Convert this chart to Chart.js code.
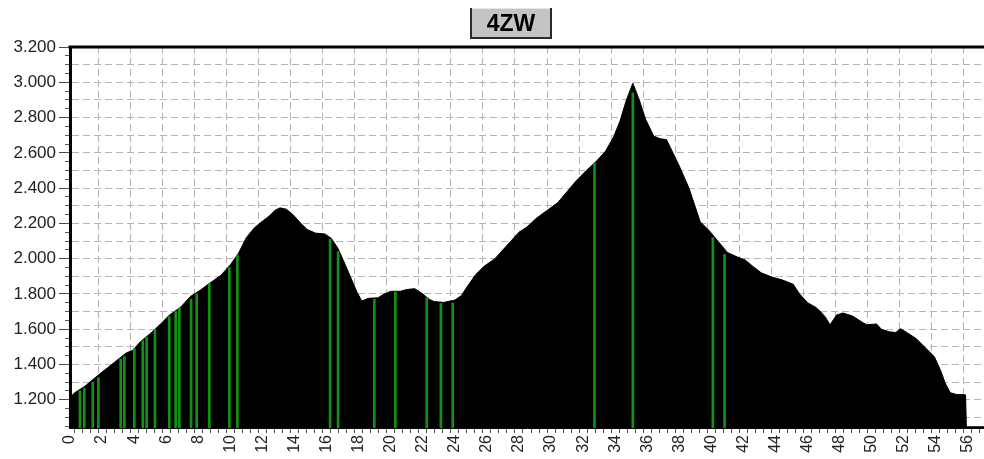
<!DOCTYPE html>
<html>
<head>
<meta charset="utf-8">
<script src="https://cdn.jsdelivr.net/npm/chart.js@4.4.1/dist/chart.umd.min.js"></script>
<style>
html, body { margin: 0; padding: 0; background: #fff; }
</style>
</head>
<body>
<canvas id="grafico_perfil" width="984" height="459"></canvas>
<script>
const tituloPerfil = '4ZW'

// perfil de altitude (km, m)
const distanciaKm = [0, 0.3, 0.9, 1.9, 2.6, 3.5, 3.9, 4.4, 5.0, 5.6, 6.2, 6.9, 7.5, 8.1, 8.7, 9.4, 10.0, 10.5, 11.0, 11.5,
    11.9, 12.4, 12.8, 13.1, 13.5, 13.9, 14.4, 14.8, 15.3, 15.9, 16.3, 16.7, 17.0, 17.5, 17.9, 18.2, 18.6, 19.2, 19.6, 20.0,
    20.6, 21.0, 21.5, 22.0, 22.4, 22.7, 23.3, 24.0, 24.4, 24.8, 25.3, 25.8, 26.5, 27.0, 27.5, 28.0, 28.5, 29.1, 29.7, 30.4,
    31.0, 31.6, 32.2, 32.8, 33.4, 33.9, 34.3, 34.7, 35.1, 35.5, 35.9, 36.4, 36.8, 37.2, 37.6, 38.0, 38.6, 39.3, 39.9, 40.4,
    41.0, 41.6, 42.1, 42.6, 43.1, 43.8, 44.4, 45.1, 45.5, 46.0, 46.5, 46.8, 47.1, 47.4, 47.8, 48.2, 48.8, 49.4, 49.7, 50.3,
    50.6, 51.1, 51.5, 51.8, 52.3, 52.8, 53.4, 53.9, 54.3, 54.6, 54.9, 55.3, 55.85, 55.9, 57]
const altitude = [1215, 1240, 1275, 1350, 1400, 1465, 1480, 1530, 1575, 1625, 1680, 1725, 1785, 1820, 1860, 1905, 1965, 2030, 2120, 2175,
    2205, 2240, 2275, 2288, 2280, 2250, 2200, 2165, 2145, 2140, 2115, 2060, 2000, 1895, 1810, 1760, 1775, 1778, 1800, 1815,
    1815, 1825, 1830, 1800, 1770, 1757, 1752, 1765, 1790, 1845, 1910, 1955, 2000, 2050, 2100, 2150, 2180, 2230, 2270, 2316,
    2380, 2445, 2500, 2550, 2610, 2690, 2780, 2900, 2995, 2900, 2790, 2695, 2680, 2675, 2600, 2525, 2400, 2210, 2155, 2100,
    2035, 2010, 1993, 1955, 1920, 1895, 1880, 1855, 1800, 1750, 1725, 1700, 1670, 1625, 1680, 1692, 1675, 1640, 1625, 1630,
    1600, 1585, 1582, 1603, 1575, 1545, 1490, 1445, 1365, 1290, 1240, 1230, 1228, 1047, 1047]

// marcos (linhas verdes)
const marcosKm = [0.62, 0.89, 1.42, 1.77, 3.16, 3.39, 4.01, 4.54, 4.78, 5.30, 6.19, 6.59, 6.82, 7.55, 7.90, 8.69, 9.94, 10.44,
    16.22, 16.72, 18.98, 20.29, 22.25, 23.13, 23.87, 32.71, 35.10, 40.09, 40.82]
const marcosAltitude = [1250, 1265, 1300, 1325, 1430, 1445, 1490, 1535, 1555, 1600, 1670, 1700, 1720, 1770, 1800, 1860, 1950, 2020,
    2110, 2040, 1770, 1810, 1780, 1745, 1750, 2540, 2940, 2120, 2025]

// ticks do eixo y
const ticksAltitude = [1200, 1400, 1600, 1800, 2000, 2200, 2400, 2600, 2800, 3000, 3200]

const fonte = "'Liberation Sans', Arial, sans-serif"
Chart.defaults.font.family = fonte

const dataPerfil = distanciaKm.map((km, i) => ({ x: km, y: altitude[i] }))
const dataMarcos = marcosKm.map((km, i) => ({ x: km, y: marcosAltitude[i] }))

const transparente = 'rgba(0,0,0,0)'

function formatarAltitude(valor) {
    return (valor / 1000).toFixed(3)
}

// caixa do titulo e borda de cima
const pluginMoldura = {
    id: 'moldura',
    afterDraw(chart) {
        const ctx = chart.ctx
        const area = chart.chartArea
        ctx.save()
        ctx.strokeStyle = '#000'
        ctx.lineWidth = 3
        ctx.beginPath()
        ctx.moveTo(area.left - 1.5, area.top)
        ctx.lineTo(area.right, area.top)
        ctx.stroke()

        const x = 470, y = 8, w = 82, h = 31
        ctx.fillStyle = '#c4c4c4'
        ctx.fillRect(x, y, w, h)
        ctx.strokeStyle = '#e6e6e6'
        ctx.lineWidth = 1
        ctx.beginPath()
        ctx.moveTo(x, y + 0.5)
        ctx.lineTo(x + w, y + 0.5)
        ctx.stroke()
        ctx.strokeStyle = '#2a2a2a'
        ctx.lineWidth = 2
        ctx.beginPath()
        ctx.moveTo(x + 1, y)
        ctx.lineTo(x + 1, y + h - 1)
        ctx.lineTo(x + w - 1, y + h - 1)
        ctx.lineTo(x + w - 1, y)
        ctx.stroke()

        ctx.fillStyle = '#000'
        ctx.font = 'bold 23px ' + fonte
        ctx.textAlign = 'center'
        ctx.textBaseline = 'middle'
        ctx.fillText(tituloPerfil, x + w / 2, y + h / 2 + 1)
        ctx.restore()
    }
}

const graficoPerfil = new Chart(document.getElementById('grafico_perfil'), {
    type: 'line',
    data: {
        datasets: [
            {
                type: 'bar',
                data: dataMarcos,
                backgroundColor: '#129212',
                borderWidth: 0,
                barThickness: 2,
                order: 0
            },
            {
                type: 'line',
                data: dataPerfil,
                borderColor: '#000',
                backgroundColor: '#000',
                borderWidth: 1,
                pointRadius: 0,
                tension: 0,
                fill: 'start',
                order: 1
            }
        ]
    },
    options: {
        responsive: false,
        animation: false,
        devicePixelRatio: 1,
        layout: { padding: { top: 47, left: 0, right: 0, bottom: 0 } },
        plugins: {
            legend: { display: false },
            tooltip: { enabled: false },
            title: { display: false }
        },
        scales: {
            x: {
                type: 'linear',
                min: 0,
                max: 57,
                offset: false,
                afterFit(escala) {
                    escala.height = 31
                    escala.paddingLeft = 0
                    escala.paddingRight = 0
                },
                ticks: {
                    stepSize: 0.5,
                    autoSkip: false,
                    maxRotation: 90,
                    minRotation: 90,
                    padding: 2,
                    color: '#222',
                    font: { size: 16 },
                    callback: (v) => (v % 2 === 0 ? String(v) : '')
                },
                grid: {
                    color: (c) => (c.tick && c.tick.value % 2 === 0 && c.tick.value > 0 ? '#b4b4b4' : transparente),
                    tickColor: '#555',
                    tickLength: 5,
                    lineWidth: 1
                },
                border: { display: true, color: '#000', width: 1, dash: [7, 4] }
            },
            y: {
                type: 'linear',
                position: 'left',
                weight: 1,
                min: 1040,
                max: 3200,
                afterBuildTicks(escala) {
                    escala.ticks = ticksAltitude.map((v) => ({ value: v }))
                },
                afterFit(escala) {
                    escala.width = 70
                    escala.paddingTop = 0
                    escala.paddingBottom = 0
                },
                ticks: {
                    padding: 3,
                    color: '#222',
                    font: { size: 17 },
                    callback: (v) => formatarAltitude(v)
                },
                grid: {
                    drawOnChartArea: false,
                    tickLength: 11,
                    tickColor: '#444'
                },
                border: { display: false }
            },
            y2: {
                type: 'linear',
                position: 'left',
                weight: 0,
                min: 1040,
                max: 3200,
                afterBuildTicks(escala) {
                    const lista = []
                    for (let valor = 1050; valor <= 3200; valor += 50) {
                        lista.push({ value: valor })
                    }
                    escala.ticks = lista
                },
                afterFit(escala) {
                    escala.width = 0
                    escala.paddingTop = 0
                    escala.paddingBottom = 0
                },
                ticks: { display: false },
                grid: {
                    color: (c) => (c.tick && c.tick.value % 100 === 0 && c.tick.value < 3200 ? '#b4b4b4' : transparente),
                    tickColor: '#555',
                    tickLength: 5,
                    lineWidth: 1
                },
                border: { display: true, color: '#000', width: 3, dash: [7, 4] }
            }
        }
    },
    plugins: [pluginMoldura]
})
</script>
</body>
</html>
